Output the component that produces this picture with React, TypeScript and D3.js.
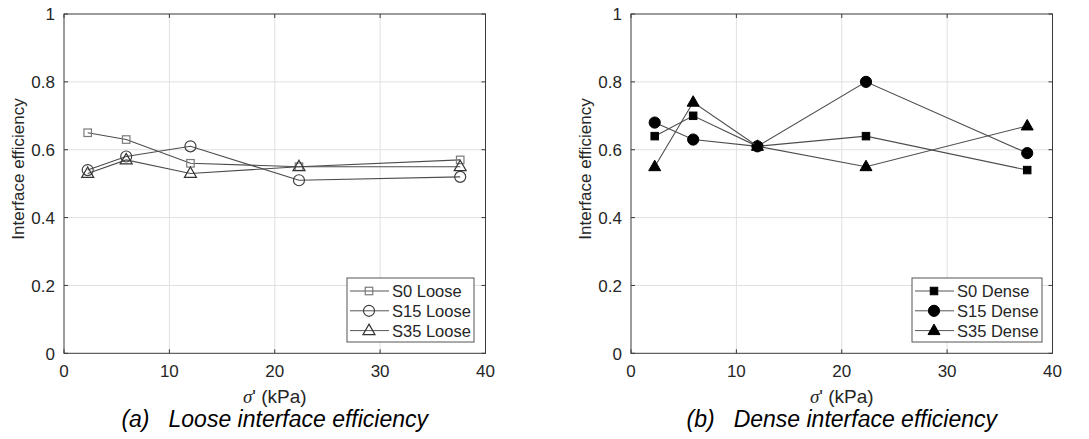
import React from "react";
import * as d3 from "d3";

// Normal effective stress at each test stage (kPa)
const stress = [2.25, 5.9, 12.0, 22.3, 37.6];

// Loose specimens
const s0Loose = [0.65, 0.63, 0.56, 0.55, 0.57];
const s15Loose = [0.54, 0.58, 0.61, 0.51, 0.52];
const s35Loose = [0.53, 0.57, 0.53, 0.55, 0.55];

// Dense specimens
const s0Dense = [0.64, 0.7, 0.61, 0.64, 0.54];
const s15Dense = [0.68, 0.63, 0.61, 0.8, 0.59];
const s35Dense = [0.55, 0.74, 0.61, 0.55, 0.67];

const xTicks = [0, 10, 20, 30, 40];
const yTicks = [0, 0.2, 0.4, 0.6, 0.8, 1];

const looseNames = ["S0 Loose", "S15 Loose", "S35 Loose"];
const denseNames = ["S0 Dense", "S15 Dense", "S35 Dense"];

type Shape = "square" | "circle" | "triangle";

const FONT = "Arial, 'Liberation Sans', Helvetica, sans-serif";
const AXIS_COLOR = "#3a3a3a";
const TEXT_COLOR = "#262626";

function Marker({ shape, x, y, filled, stroke }: { shape: Shape; x: number; y: number; filled: boolean; stroke: string }) {
  const fill = filled ? "#000" : "none";
  const sw = filled ? 1 : 1.2;
  const edge = filled ? "#000" : stroke;
  if (shape === "square") {
    const s = filled ? 7.5 : 7.5;
    return <rect x={x - s / 2} y={y - s / 2} width={s} height={s} fill={fill} stroke={edge} strokeWidth={sw} />;
  }
  if (shape === "circle") {
    const r = filled ? 5.6 : 5.5;
    return <circle cx={x} cy={y} r={r} fill={fill} stroke={edge} strokeWidth={sw} />;
  }
  const w = 12, h = 10.5;
  const p = `M${x},${y - h * 0.62}L${x + w / 2},${y + h * 0.38}L${x - w / 2},${y + h * 0.38}Z`;
  return <path d={p} fill={fill} stroke={edge} strokeWidth={sw} />;
}

type Series = { name: string; values: number[]; shape: Shape; stroke: string };

function Panel({ left, series, filled, caption, tag, legendLeft }: {
  left: number; series: Series[]; filled: boolean; caption: string; tag: string; legendLeft: number;
}) {
  const x = d3.scaleLinear().domain([0, 40]).range([left, left + 421.5]);
  const y = d3.scaleLinear().domain([0, 1]).range([353.3, 14]);
  const [x0, x1] = x.range();
  const [y0, y1] = y.range();
  const line = d3.line<number>().x((_, i) => x(stress[i])).y((v) => y(v));
  const cx = (x0 + x1) / 2;
  const legTop = 278, legH = 64, legW = filled ? 130 : 127;
  const rowY = [291, 310.8, 330.6];

  return (
    <g>
      {/* grid */}
      {xTicks.slice(1, -1).map((t) => (
        <line key={"gx" + t} x1={x(t)} x2={x(t)} y1={y0} y2={y1} stroke="#e0e0e0" strokeWidth={1} />
      ))}
      {yTicks.slice(1, -1).map((t) => (
        <line key={"gy" + t} x1={x0} x2={x1} y1={y(t)} y2={y(t)} stroke="#e0e0e0" strokeWidth={1} />
      ))}
      {/* box and ticks */}
      <rect x={x0} y={y1} width={x1 - x0} height={y0 - y1} fill="none" stroke={AXIS_COLOR} strokeWidth={1} />
      {xTicks.map((t) => (
        <g key={"tx" + t}>
          <line x1={x(t)} x2={x(t)} y1={y0} y2={y0 - 4} stroke={AXIS_COLOR} />
          <line x1={x(t)} x2={x(t)} y1={y1} y2={y1 + 4} stroke={AXIS_COLOR} />
          <text x={x(t)} y={377} textAnchor="middle" fontSize={17} fill={TEXT_COLOR} fontFamily={FONT}>{t}</text>
        </g>
      ))}
      {yTicks.map((t) => (
        <g key={"ty" + t}>
          <line x1={x0} x2={x0 + 4} y1={y(t)} y2={y(t)} stroke={AXIS_COLOR} />
          <line x1={x1} x2={x1 - 4} y1={y(t)} y2={y(t)} stroke={AXIS_COLOR} />
          <text x={x0 - 9} y={y(t) + 6.3} textAnchor="end" fontSize={17} fill={TEXT_COLOR} fontFamily={FONT}>{d3.format("~g")(t)}</text>
        </g>
      ))}
      {/* axis labels */}
      <text transform={`translate(${x0 - 40},169) rotate(-90)`} textAnchor="middle" fontSize={17} fill={TEXT_COLOR} fontFamily={FONT}>
        Interface efficiency
      </text>
      <text x={cx} y={402.5} textAnchor="middle" fontSize={19} fill={TEXT_COLOR} fontFamily={FONT}>
        <tspan fontFamily="'Liberation Serif', 'Times New Roman', serif" fontStyle="italic">σ</tspan>' (kPa)
      </text>
      {/* caption */}
      <text x={cx} y={427} textAnchor="middle" fontSize={23} fill="#000" fontFamily={FONT} fontStyle="italic">
        {tag}
        <tspan dx={19}>{caption}</tspan>
      </text>
      {/* series */}
      {series.map((s) => (
        <g key={s.name}>
          <path d={line(s.values) || ""} fill="none" stroke="#4d4d4d" strokeWidth={1.1} />
          {s.values.map((v, i) => (
            <Marker key={i} shape={s.shape} x={x(stress[i])} y={y(v)} filled={filled} stroke={s.stroke} />
          ))}
        </g>
      ))}
      {/* legend */}
      <rect x={legendLeft} y={legTop} width={legW} height={legH} fill="#fff" stroke="#555" strokeWidth={1} />
      {series.map((s, i) => (
        <g key={"lg" + s.name}>
          <line x1={legendLeft + 3} x2={legendLeft + 42} y1={rowY[i]} y2={rowY[i]} stroke="#555" strokeWidth={1} />
          <Marker shape={s.shape} x={legendLeft + 22} y={rowY[i]} filled={filled} stroke={s.stroke} />
          <text x={legendLeft + 45} y={rowY[i] + 6} fontSize={16.5} fill={TEXT_COLOR} fontFamily={FONT}>{s.name}</text>
        </g>
      ))}
    </g>
  );
}

export default function App() {
  const loose: Series[] = [
    { name: looseNames[0], values: s0Loose, shape: "square", stroke: "#7a7a7a" },
    { name: looseNames[1], values: s15Loose, shape: "circle", stroke: "#404040" },
    { name: looseNames[2], values: s35Loose, shape: "triangle", stroke: "#333" },
  ];
  const dense: Series[] = [
    { name: denseNames[0], values: s0Dense, shape: "square", stroke: "#000" },
    { name: denseNames[1], values: s15Dense, shape: "circle", stroke: "#000" },
    { name: denseNames[2], values: s35Dense, shape: "triangle", stroke: "#000" },
  ];
  return (
    <svg width={1089} height={439} style={{ position: "absolute", left: 0, top: 0, background: "#fff" }}>
      <rect width={1089} height={439} fill="#fff" />
      <Panel left={64} series={loose} filled={false} tag="(a)" caption="Loose interface efficiency" legendLeft={347} />
      <Panel left={631} series={dense} filled={true} tag="(b)" caption="Dense interface efficiency" legendLeft={912} />
    </svg>
  );
}
